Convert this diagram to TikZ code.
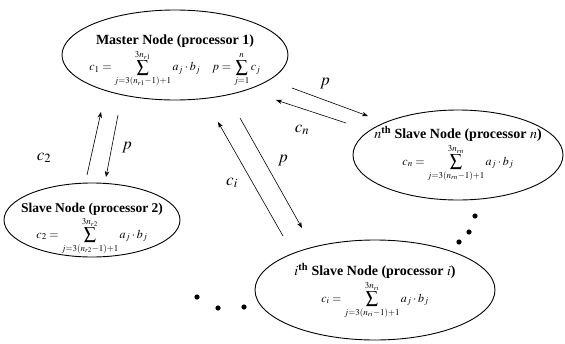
\documentclass[tikz,border=0pt]{standalone}
\usepackage{amsmath}
\usepackage{mathptmx}
\usepackage[no-math]{fontspec}
\setmainfont{Liberation Serif}
\usepackage{tikz}
\usetikzlibrary{shapes.geometric,calc,arrows.meta}

\tikzset{
  proc/.style={ellipse, draw, line width=0.9pt, inner sep=0pt},
  proctext/.style={align=center, inner sep=0pt},
  msg/.style={-{Stealth[length=6pt,width=4.5pt]}, line width=0.6pt},
  lbl/.style={font=\fontsize{17}{19}\selectfont}
}

\begin{document}
\begin{tikzpicture}[x=1pt,y=-1pt,font=\fontsize{12}{14}\selectfont]
		\useasboundingbox (0,0) rectangle (565,343);
		% processors
		\node[proc, minimum width=226pt, minimum height=90pt] (master) at (175,55) {};
		\node[proc, minimum width=176pt, minimum height=74pt] (slavetwo) at (92,220) {};
		\node[proc, minimum width=240pt, minimum height=100pt] (slavei) at (375,290) {};
		\node[proc, minimum width=210pt, minimum height=90pt] (slaven) at (458,155) {};
		\node[proctext] (mastertext) at ($(master)+(0,6)$) {{\bfseries\fontsize{14}{16}\selectfont Master Node (processor 1)}\\[2pt]
			$c_1=\displaystyle\sum_{j=3(n_{r1}-1)+1}^{3n_{r1}} a_j\cdot b_j\quad p=\sum_{j=1}^{n}c_j$};
		\node[proctext] (slavetwotext) at ($(slavetwo)+(0,9)$) {{\bfseries\fontsize{13.5}{15}\selectfont Slave Node (processor 2)}\\[1pt]
			$c_2=\displaystyle\sum_{j=3(n_{r2}-1)+1}^{3n_{r2}} a_j\cdot b_j$};
		\node[proctext] (slaveitext) at ($(slavei)+(0,1)$) {{\bfseries\fontsize{14}{16}\selectfont $i^{\text{th}}$ Slave Node (processor $i$)}\\[2pt]
			$c_i=\displaystyle\sum_{j=3(n_{ri}-1)+1}^{3n_{ri}} a_j\cdot b_j$};
		\node[proctext] (slaventext) at ($(slaven)+(0,-1)$) {{\bfseries\fontsize{14}{16}\selectfont $n^{\text{th}}$ Slave Node (processor $n$)}\\[2pt]
			$c_n=\displaystyle\sum_{j=3(n_{rn}-1)+1}^{3n_{rn}} a_j\cdot b_j$};
		% messages
		\draw[msg] ($(slavetwo)+(-5,-45)$) -- ($(master)+(-74,57)$);
		\draw[msg] ($(master)+(-57,60)$) -- ($(slavetwo)+(14,-43)$);
		\draw[msg] ($(slavei)+(-92,-54)$) -- ($(master)+(43,67)$);
		\draw[msg] ($(master)+(65,63)$) -- ($(slavei)+(-73,-62)$);
		\draw[msg] ($(slaven)+(-112,-32)$) -- ($(master)+(101,45)$);
		\draw[msg] ($(master)+(117,33)$) -- ($(slaven)+(-90,-39)$);
		\node[lbl] (ltwo) at (44,158) {$c_2$};
		\node[lbl] (lpa) at (127,148) {$p$};
		\node[lbl] (li) at (232,183) {$c_i$};
		\node[lbl] (lpb) at (283,161) {$p$};
		\node[lbl] (ln) at (302,130) {$c_n$};
		\node[lbl] (lpc) at (325,84) {$p$};
		% dots
		\fill (197,297) circle (2.6) (218,308) circle (2.6) (244,307) circle (2.6);
		\fill (475,216) circle (2.6) (469,232) circle (2.6) (459,242) circle (2.6);
	\end{tikzpicture}
\end{document}
